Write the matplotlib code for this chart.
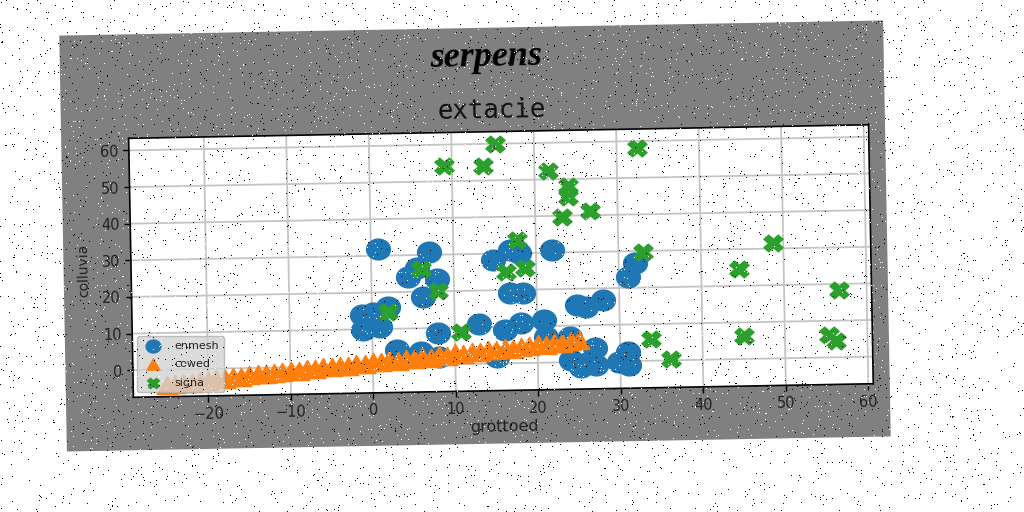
import numpy as np
import matplotlib
matplotlib.use('Agg')
import matplotlib.pyplot as plt
from matplotlib.markers import MarkerStyle
from matplotlib.patches import Rectangle
from matplotlib.transforms import Affine2D, IdentityTransform

# values
enmesh_x = [0.9, 7.1, 14.8, 16.9, 18.0, 22.0, 4.4, 8.0, 6.2, 5.6, 16.8, 18.3, 32.0, 31.1,
            24.9, 25.9, 28.0, 0.1, 1.9, -1.2, -1.1, 1.0, 8.0, 13.0, 3.0, 5.8, 8.0, 15.1,
            16.1, 18.0, 20.8, 21.0, 24.0, 27.0, 31.0, 31.0, 29.8, 24.0, 25.2, 27.0, 26.0]
enmesh_y = [31.8, 30.7, 28.2, 30.8, 30.0, 30.6, 24.0, 23.3, 18.5, 26.4, 19.1, 19.1, 26.7, 22.9,
            15.5, 14.9, 16.7, 14.3, 15.9, 13.9, 9.8, 10.5, 8.6, 10.8, 4.1, 3.5, 2.0, 1.7,
            9.0, 10.9, 11.6, 7.0, 6.8, 3.7, 2.4, -1.1, -0.2, 0.5, -1.4, -0.9, -0.4]

cowed_x = list(range(-25, 26))
cowed_y = [-4.2, -4.1, -3.7, -3.7, -3.2, -3.3, -2.8, -2.9, -2.3, -2.4,
           -2.0, -1.8, -1.7, -1.4, -1.3, -0.9, -1.0, -0.5, -0.5, -0.1,
           -0.2, 0.2, 0.2, 0.6, 0.5, 1.0, 0.9, 1.4, 1.2, 1.7,
           1.7, 2.2, 1.9, 2.5, 2.4, 3.0, 2.8, 3.3, 3.3, 3.7,
           3.7, 4.2, 4.0, 4.5, 4.5, 5.0, 4.8, 5.4, 5.2, 5.7, 6.0]

signa_x = [9.1, 13.8, 15.3, 21.7, 24.0, 24.0, 23.2, 26.6, 32.5, 33.0, 44.6, 48.8, 56.6,
           45.0, 55.3, 56.2, 33.7, 36.1, 10.8, 1.9, 6.1, 8.0, 17.8, 16.3, 18.6]
signa_y = [54.1, 53.9, 59.8, 52.2, 48.0, 45.0, 39.6, 41.1, 58.0, 29.6, 24.5, 31.4, 18.3,
           6.2, 6.1, 4.4, 5.9, 0.3, 8.7, 14.5, 26.1, 20.0, 33.5, 24.9, 25.9]

x_ticks = [-20, -10, 0, 10, 20, 30, 40, 50, 60]
y_ticks = [0, 10, 20, 30, 40, 50, 60]

W, H = 1024, 512
ANGLE = 1.05


def squat(name):
    """Marker a bit wider than tall, like the stretched picture."""
    style = MarkerStyle(name)
    path = style.get_path().transformed(style.get_transform())
    return path.transformed(Affine2D().scale(1, 0.87))


fig = plt.figure(figsize=(W / 100, H / 100), dpi=100, facecolor='white')

# the whole sheet is turned a little, in pixel space
rot = Affine2D().rotate_deg_around(475, 276, ANGLE)

fig.add_artist(Rectangle((63, 68), 824, 416, facecolor='#808080', edgecolor='none',
                         transform=rot, zorder=-1))

ax = fig.add_axes([130.5 / W, 121 / H, 740 / W, 259 / H])
ax.set_xlim(-29.1, 60.6)
ax.set_ylim(-7.4, 63.3)

blue = ax.scatter(enmesh_x, enmesh_y, s=295, marker=squat('o'), color='#1f77b4', label='enmesh', zorder=2)
orange = ax.scatter(cowed_x, cowed_y, s=225, marker=squat('^'), color='#ff7f0e', label='cowed', zorder=3)
green = ax.scatter(signa_x, signa_y, s=190, marker=squat('X'), color='#2ca02c', label='signa', zorder=4)

ax.set_xticks(x_ticks)
ax.set_yticks(y_ticks)
ax.tick_params(labelsize=10.5, length=4, width=1, labelcolor='#222222')
ax.grid(True, color='#c4c4c4', linewidth=1.3)
ax.set_axisbelow(True)

ax.set_xlabel('grottoed', fontsize=11.5, va='center', color='#222222')
ax.set_ylabel('colluvia', fontsize=10, va='center', color='#222222')
ax.xaxis.set_label_coords(0.5, -0.141)
ax.yaxis.set_label_coords(-0.0636, 0.495)
ax.set_title('extacie', family='DejaVu Sans Mono', fontsize=18.5, x=0.4916, y=1.079,
             va='center', pad=0, color='#111111')

# push everything through the rotation
for sc in (blue, orange, green):
    sc.set_offset_transform(sc.get_offset_transform() + rot)
    sc.set_clip_on(False)

for axis in (ax.xaxis, ax.yaxis):
    for t in axis.get_major_ticks():
        for a in (t.gridline, t.tick1line, t.label1):
            a.set_transform(a.get_transform() + rot)
            a.set_clip_on(False)
        t.label1.set_rotation(ANGLE)

for s in ax.spines.values():
    s.set_transform(s.get_transform() + rot)
    s.set_linewidth(1.2)

ax.patch.set_transform(ax.transAxes + rot)
for lab in (ax.xaxis.label, ax.yaxis.label, ax.title):
    lab.set_transform(lab.get_transform() + rot)
ax.xaxis.label.set_rotation(ANGLE)
ax.yaxis.label.set_rotation(90 + ANGLE)
ax.title.set_rotation(ANGLE)

leg = ax.legend(loc='lower left', bbox_to_anchor=(137, 120), bbox_transform=IdentityTransform(),
                borderaxespad=0, fontsize=8, markerscale=0.62, facecolor='#d3d3d3',
                framealpha=0.8, edgecolor='#b0b0b0', handletextpad=1.0, labelspacing=0.75)
leg.set_zorder(6)
for txt in leg.get_texts():
    txt.set_color('#222222')

fig.text(489 / W, 454 / H, 'serpens', family='Liberation Serif', style='italic', weight='bold',
         fontsize=26, ha='center', va='center', rotation=ANGLE, color='black',
         transform=fig.transFigure + rot)

# salt and pepper speckle over the whole picture
rng = np.random.default_rng(7)
speck = np.zeros((H, W, 4))
roll = rng.random((H, W))
speck[roll < 0.010] = [0, 0, 0, 1]
speck[(roll >= 0.010) & (roll < 0.020)] = [1, 1, 1, 1]
fig.figimage(speck, 0, 0, zorder=20, origin='upper')

fig.savefig('out.png', dpi=100)
